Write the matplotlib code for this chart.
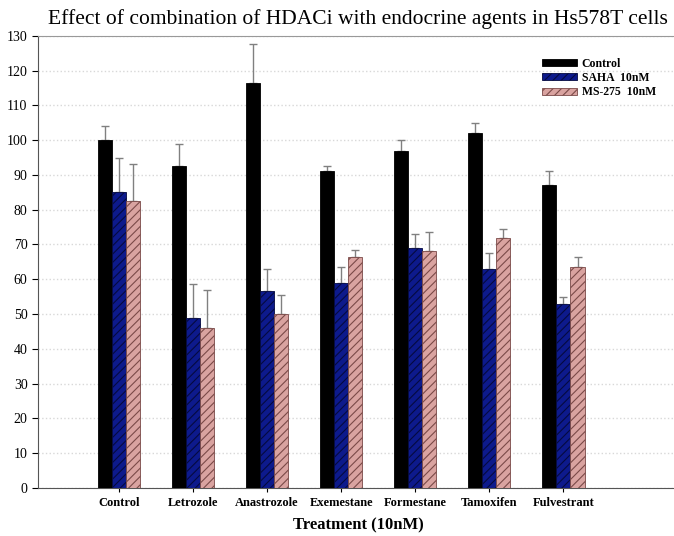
import numpy as np
import matplotlib
matplotlib.use("Agg")
import matplotlib.pyplot as plt

# Datos del ensayo (porcentaje de viabilidad)
tratamientos = ["Control", "Letrozole", "Anastrozole", "Exemestane",
                "Formestane", "Tamoxifen", "Fulvestrant"]
control = [100, 92.5, 116.5, 91, 97, 102, 87]
control_err = [4, 6.5, 11, 1.5, 3, 3, 4]
saha = [85, 49, 56.5, 59, 69, 63, 53]
saha_err = [10, 9.5, 6.5, 4.5, 4, 4.5, 2]
ms275 = [82.5, 46, 50, 66.5, 68, 72, 63.5]
ms275_err = [10.5, 11, 5.5, 2, 5.5, 2.5, 3]
series = ["Control", "SAHA  10nM", "MS-275  10nM"]

plt.rcParams["font.family"] = ["Liberation Serif", "DejaVu Serif"]
plt.rcParams["hatch.linewidth"] = 0.8

fig = plt.figure(figsize=(6.74, 5.36), dpi=100)
ax = fig.add_axes([0.0564, 0.0896, 0.95, 0.8437])

x = np.arange(len(tratamientos))
ancho = 0.19

# Barras con barras de error solo hacia arriba
estilos = [
    dict(color="black", edgecolor="black", hatch=None),
    dict(color="#0d1a8c", edgecolor="#050a40", hatch="////"),
    dict(color="#d9a3a0", edgecolor="#7a4a48", hatch="////"),
]
valores = [control, saha, ms275]
errores = [control_err, saha_err, ms275_err]
for i, (vals, errs, est, nombre) in enumerate(zip(valores, errores, estilos, series)):
    pos = x + (i - 1) * ancho
    ax.bar(pos, vals, ancho, color=est["color"], edgecolor=est["edgecolor"],
           hatch=est["hatch"], linewidth=0.6, label=nombre, zorder=3)
    ax.errorbar(pos, vals, yerr=[np.zeros(len(vals)), errs], fmt="none",
                ecolor="#808080", elinewidth=1, capsize=3, capthick=1, zorder=2)

ax.set_xlim(-1.09, 7.55)
ax.set_ylim(0, 130)
ax.set_yticks(np.arange(0, 131, 10))
ax.set_xticks(x)
ax.set_xticklabels(tratamientos, fontweight="bold", fontsize=9)
ax.tick_params(axis="y", labelsize=10, length=4, width=0.8)
ax.tick_params(axis="x", length=3, width=0.8)

ax.yaxis.grid(True, linestyle=":", color="#d8d8d8", linewidth=1)
ax.set_axisbelow(True)

for lado in ["left", "bottom"]:
    ax.spines[lado].set_color("#555555")
ax.spines["top"].set_color("#999999")
ax.spines["right"].set_visible(False)

ax.set_xlabel("Treatment (10nM)", fontweight="bold", fontsize=12, labelpad=6)
fig.text(0.531, 0.965, "Effect of combination of HDACi with endocrine agents in Hs578T cells",
         ha="center", va="center", fontsize=15.5)

ax.legend(loc="upper left", bbox_to_anchor=(0.77, 0.975), frameon=False,
          prop={"weight": "bold", "size": 8.5}, handlelength=3.0,
          handleheight=0.55, labelspacing=0.2, handletextpad=0.4)

fig.savefig("out.png", dpi=100)
